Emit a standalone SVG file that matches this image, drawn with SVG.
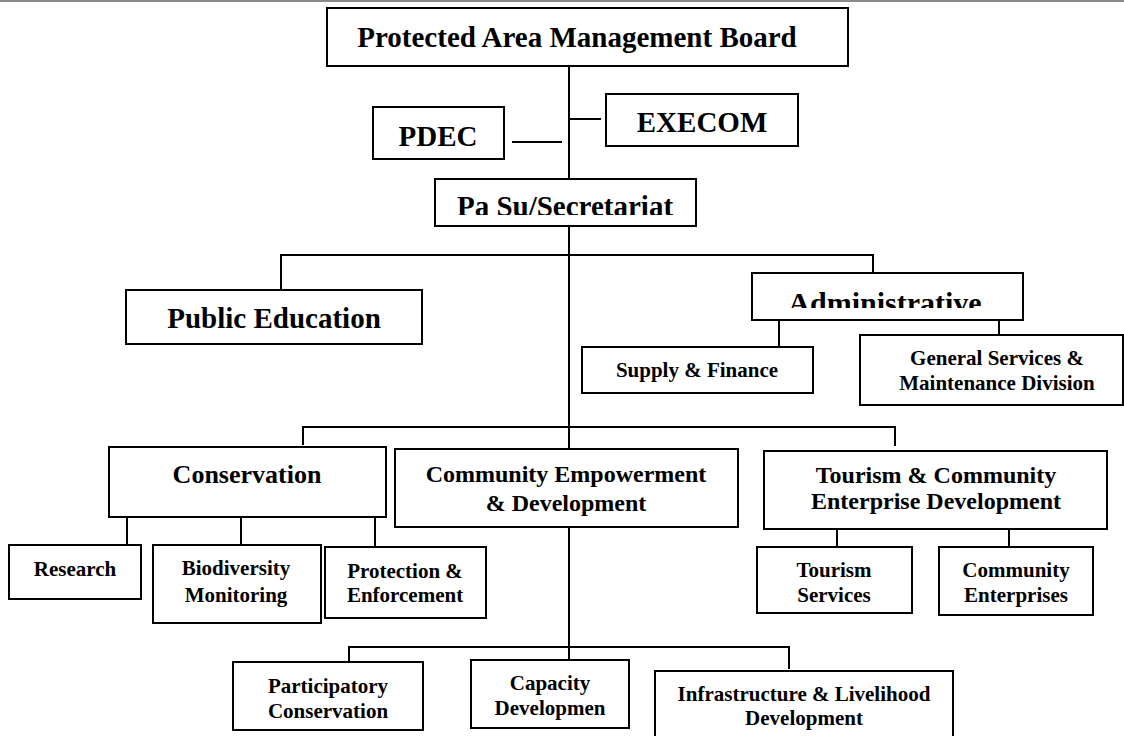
<svg xmlns="http://www.w3.org/2000/svg" width="1124" height="736" viewBox="0 0 1124 736">
<style>
.box{fill:#fff;stroke:#000;stroke-width:2}
.ln{fill:none;stroke:#000;stroke-width:2}
text{font-family:"Liberation Serif","Times New Roman",serif;font-weight:bold;fill:#000;text-anchor:middle}
.f29{font-size:29px}.f30{font-size:30px}.f26{font-size:26px}.f24{font-size:24px}.f21{font-size:21px}
</style>
<defs>
<clipPath id="clipPasu"><rect x="436" y="180" width="259" height="35"/></clipPath>
<clipPath id="clipAdmin"><rect x="753" y="274" width="269" height="34"/></clipPath>
</defs>
<rect width="1124" height="736" fill="#fff"/>
<line x1="0" y1="1" x2="1124" y2="1" stroke="#8a8a8a" stroke-width="2"/>
<g id="connectors">
<path class="ln" d="M569 66V179M569 226V449M569 527V660"/>
<path class="ln" d="M512 142H562M569 119H601"/>
<path class="ln" d="M281 290V255H873V273"/>
<path class="ln" d="M779 320V347M999 320V336"/>
<path class="ln" d="M303 445V427H895V446"/>
<path class="ln" d="M127 517V546M241 517V546M375 517V547"/>
<path class="ln" d="M837 529V547M1009 529V547"/>
<path class="ln" d="M349 662V647H789V669"/>
</g>
<g id="pamb"><rect class="box" x="327" y="8" width="521" height="58"/><text class="f29" x="577" y="47">Protected Area Management Board</text></g>
<g id="pdec"><rect class="box" x="373" y="107" width="131" height="52"/><text class="f29" x="438" y="146">PDEC</text></g>
<g id="execom"><rect class="box" x="606" y="94" width="192" height="52"/><text class="f29" x="702" y="132">EXECOM</text></g>
<g id="pasu"><rect class="box" x="435" y="179" width="261" height="47"/><text class="f29" x="565" y="216" clip-path="url(#clipPasu)">Pa Su/Secretariat</text></g>
<g id="public-education"><rect class="box" x="126" y="290" width="296" height="54"/><text class="f29" x="274" y="328">Public Education</text></g>
<g id="administrative"><rect class="box" x="752" y="273" width="271" height="47"/><text class="f30" x="885" y="313" clip-path="url(#clipAdmin)">Administrative</text></g>
<g id="supply-finance"><rect class="box" x="582" y="347" width="231" height="46"/><text class="f21" x="697" y="377">Supply &amp; Finance</text></g>
<g id="general-services"><rect class="box" x="860" y="335" width="263" height="70"/><text class="f21" x="997" y="365">General Services &amp;</text><text class="f21" x="997" y="390">Maintenance Division</text></g>
<g id="conservation"><rect class="box" x="109" y="447" width="277" height="70"/><text class="f26" x="247" y="483">Conservation</text></g>
<g id="community-empowerment"><rect class="box" x="395" y="449" width="343" height="78"/><text class="f24" x="566" y="482">Community Empowerment</text><text class="f24" x="566" y="511">&amp; Development</text></g>
<g id="tourism-community"><rect class="box" x="764" y="451" width="343" height="78"/><text class="f24" x="936" y="483">Tourism &amp; Community</text><text class="f24" x="936" y="509">Enterprise Development</text></g>
<g id="research"><rect class="box" x="9" y="545" width="132" height="54"/><text class="f21" x="75" y="576">Research</text></g>
<g id="biodiversity"><rect class="box" x="153" y="545" width="168" height="78"/><text class="f21" x="236" y="575">Biodiversity</text><text class="f21" x="236" y="602">Monitoring</text></g>
<g id="protection"><rect class="box" x="325" y="547" width="161" height="71"/><text class="f21" x="405" y="578">Protection &amp;</text><text class="f21" x="405" y="602">Enforcement</text></g>
<g id="tourism-services"><rect class="box" x="757" y="547" width="155" height="66"/><text class="f21" x="834" y="577">Tourism</text><text class="f21" x="834" y="602">Services</text></g>
<g id="community-enterprises"><rect class="box" x="939" y="547" width="154" height="68"/><text class="f21" x="1016" y="577">Community</text><text class="f21" x="1016" y="602">Enterprises</text></g>
<g id="participatory"><rect class="box" x="233" y="662" width="190" height="68"/><text class="f21" x="328" y="693">Participatory</text><text class="f21" x="328" y="718">Conservation</text></g>
<g id="capacity"><rect class="box" x="471" y="660" width="158" height="68"/><text class="f21" x="550" y="690">Capacity</text><text class="f21" x="550" y="715">Developmen</text></g>
<g id="infrastructure"><rect class="box" x="655" y="671" width="298" height="75"/><text class="f21" x="804" y="701">Infrastructure &amp; Livelihood</text><text class="f21" x="804" y="725">Development</text></g>
</svg>
